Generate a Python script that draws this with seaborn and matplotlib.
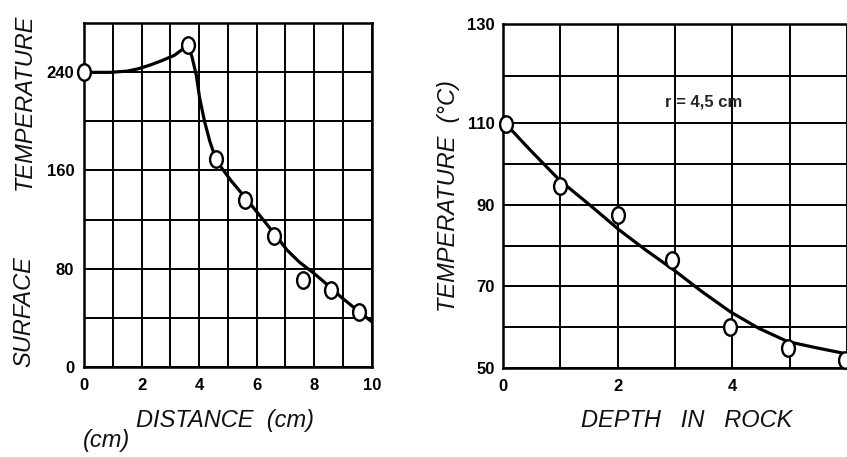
import numpy as np
import matplotlib
matplotlib.use('Agg')
import matplotlib.pyplot as plt
import seaborn as sns
from matplotlib.path import Path
from matplotlib.transforms import Affine2D
from matplotlib.ticker import MultipleLocator, FixedLocator
from matplotlib.font_manager import FontProperties

# Left panel: surface temperature vs distance
dist_pts = [0, 3.6, 4.6, 5.6, 6.62, 7.6, 8.6, 9.56]
surf_pts = [240, 262, 169, 136, 106.5, 71, 62.5, 45]
dist_curve = [0, 0.5, 0.9, 1.5, 1.9, 2.3, 2.7, 3.15, 3.6, 3.75, 3.9, 4.02, 4.19, 4.37, 4.6,
              5.1, 5.6, 6.05, 6.6, 7.06, 7.5, 8.0, 8.5, 8.95, 9.5, 10]
surf_curve = [240, 240, 240, 241, 243, 246, 249.5, 254, 262, 253, 238, 219, 200, 184, 168,
              152, 138, 125, 109, 95, 85, 76, 66, 56.5, 46, 36.7]

# Right panel: temperature vs depth in rock, r = 4,5 cm
depth_pts = [0.05, 1.0, 2.0, 2.95, 3.97, 4.97, 5.96]
rock_pts = [109.8, 94.6, 87.5, 76.4, 60, 54.9, 51.9]
depth_curve = [0, 0.47, 0.99, 1.51, 2.03, 2.49, 2.98, 3.47, 3.97, 4.46, 4.97, 5.5, 5.96, 6.3]
rock_curve = [110.5, 103.5, 96, 90, 83.8, 78.9, 74, 68.7, 63.7, 59.7, 56.4, 54.8, 53.5, 53]

sns.set_style('white')
plt.rcParams['font.family'] = ['Liberation Sans', 'DejaVu Sans']

W, H = 847, 457
fig = plt.figure(figsize=(W / 100, H / 100), dpi=100)

tick_fp = FontProperties(family=['Liberation Sans Narrow', 'Liberation Sans', 'DejaVu Sans'],
                         weight='bold', size=12)
label_kw = dict(fontsize=17, style='italic', color='#111111')

# slightly taller-than-wide open circle, like the hand-drawn markers
oval = Path.unit_circle().transformed(Affine2D().scale(0.78, 1.0))


def style_axes(ax):
    ax.set_axisbelow(True)
    ax.grid(which='both', color='black', lw=1.4)
    ax.tick_params(which='both', length=0, colors='black')
    for sp in ax.spines.values():
        sp.set_visible(True)
        sp.set_color('black')
        sp.set_linewidth(1.8)
    for lbl in ax.get_xticklabels() + ax.get_yticklabels():
        lbl.set_fontproperties(tick_fp)


def draw(ax, xc, yc, xp, yp):
    sns.lineplot(x=xc, y=yc, ax=ax, color='black', lw=2.3, estimator=None, sort=False)
    sns.scatterplot(x=xp, y=yp, ax=ax, marker=oval, s=140, facecolor='white',
                    edgecolor='black', linewidth=1.7, zorder=4, clip_on=False)


# ---- left panel ----
ax1 = fig.add_axes([84 / W, 1 - 366.7 / H, (371.7 - 84) / W, (366.7 - 23.3) / H])
draw(ax1, dist_curve, surf_curve, dist_pts, surf_pts)
ax1.set_xlim(0, 10)
ax1.set_ylim(0, 280)
ax1.xaxis.set_major_locator(MultipleLocator(2))
ax1.xaxis.set_minor_locator(MultipleLocator(1))
ax1.yaxis.set_major_locator(FixedLocator([0, 80, 160, 240]))
ax1.yaxis.set_minor_locator(MultipleLocator(40))
ax1.set_xlabel('')
ax1.set_ylabel('')
ax1.tick_params(axis='x', pad=8)
ax1.tick_params(axis='y', pad=7)
style_axes(ax1)

# ---- right panel (runs off the right edge, as in the scan) ----
kv = [-1000, 50, 110, 120, 130, 1000]
kp = [-4277, 0, 244.4, 291.7, 343.7, 4868]


def fwd(v):
    return np.interp(v, kv, kp)


def inv(p):
    return np.interp(p, kp, kv)


ax2 = fig.add_axes([503 / W, 1 - 367.7 / H, 8 * 57.3 / W, (367.7 - 24) / H])
ax2.set_yscale('function', functions=(fwd, inv))
draw(ax2, depth_curve, rock_curve, depth_pts, rock_pts)
ax2.set_xlim(0, 8)
ax2.set_ylim(50, 130)
ax2.xaxis.set_major_locator(FixedLocator([0, 2, 4]))
ax2.xaxis.set_minor_locator(MultipleLocator(1))
ax2.yaxis.set_major_locator(FixedLocator([50, 70, 90, 110, 130]))
ax2.yaxis.set_minor_locator(MultipleLocator(10))
ax2.set_xlabel('')
ax2.set_ylabel('')
ax2.tick_params(axis='x', pad=8)
ax2.tick_params(axis='y', pad=6)
style_axes(ax2)
ax2.text(3.5, 114.5, 'r = 4,5 cm', ha='center', va='center', fontproperties=tick_fp)

# ---- axis titles ----
fig.text(24 / W, 1 - 102 / H, 'TEMPERATURE', rotation=90, ha='center', va='center', **label_kw)
fig.text(24 / W, 1 - 312 / H, 'SURFACE', rotation=90, ha='center', va='center', **label_kw)
fig.text(225 / W, 1 - 427 / H, 'DISTANCE  (cm)', ha='center', va='baseline', **label_kw)
fig.text(83 / W, 1 - 447 / H, '(cm)', ha='left', va='baseline', **label_kw)
fig.text(448 / W, 1 - 196 / H, 'TEMPERATURE  (°C)', rotation=90, ha='center', va='center', **label_kw)
fig.text(687 / W, 1 - 427 / H, 'DEPTH   IN   ROCK', ha='center', va='baseline', **label_kw)

fig.savefig('out.png', dpi=100)
